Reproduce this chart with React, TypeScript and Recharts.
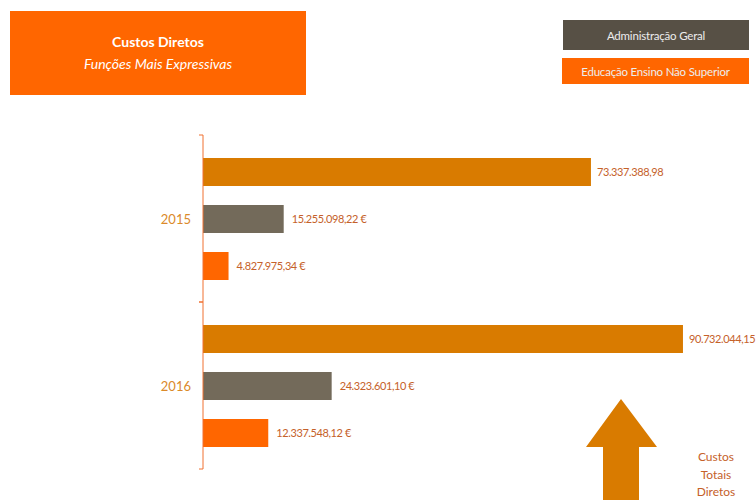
import React from 'react';
import { BarChart, Bar, XAxis, YAxis, Legend, LabelList } from 'recharts';

const years = ['2015', '2016'];
const custosTotais = [73337388.98, 90732044.15];
const adminGeral = [15255098.22, 24323601.1];
const educacao = [4827975.34, 12337548.12];

const seriesNames = {
  total: 'Custos Totais Diretos',
  admin: 'Administração Geral',
  edu: 'Educação Ensino Não Superior',
};

const FONT = 'Lato, sans-serif';
const LABEL_COLOR = '#C5612A';

const data = years.map((year, i) => ({
  year,
  total: custosTotais[i],
  admin: adminGeral[i],
  edu: educacao[i],
}));

// 73337388.98 -> "73.337.388,98"
function fmt(n: number) {
  const [int, dec] = n.toFixed(2).split('.');
  return int.replace(/\B(?=(\d{3})+(?!\d))/g, '.') + ',' + dec;
}

const YearTick = (props: any) => {
  const { x, y, payload } = props;
  const half = payload.offset || 83.5;
  const ax = x + 12;
  return (
    <g>
      <line x1={ax - 4} x2={ax} y1={y - half} y2={y - half} stroke="#F07030" />
      <line x1={ax - 4} x2={ax} y1={y + half} y2={y + half} stroke="#F07030" />
      <text x={x} y={y} dy={5} textAnchor="end" fill="#DB8A2A" fontSize={13} fontFamily={FONT}>
        {payload.value}
      </text>
    </g>
  );
};

const LegendBoxes = (props: any) => {
  const items = (props.payload || []).filter((p: any) => p.dataKey !== 'total');
  const boxStyle = [
    { background: '#575045', height: 30, marginBottom: 8, width: 186 },
    { background: '#FF6600', height: 26, width: 187, marginLeft: -1 },
  ];
  return (
    <div style={{ fontFamily: FONT }}>
      {items.map((p: any, i: number) => (
        <div
          key={p.value}
          style={{
            ...boxStyle[i],
            color: '#EDEDED',
            fontSize: 11.5,
            letterSpacing: -0.2,
            display: 'flex',
            alignItems: 'center',
            justifyContent: 'center',
          }}
        >
          {p.value}
        </div>
      ))}
    </div>
  );
};

const labelProps = {
  position: 'right' as const,
  fill: LABEL_COLOR,
  fontSize: 11,
  fontFamily: FONT,
  style: { letterSpacing: -0.4 },
};

export default function App() {
  return (
    <div style={{ position: 'absolute', left: 0, top: 0, width: 756, height: 500, background: '#fff', overflow: 'hidden' }}>
      <div
        style={{
          position: 'absolute',
          left: 10,
          top: 11,
          width: 296,
          height: 84,
          background: '#FF6600',
          color: '#fff',
          fontFamily: FONT,
          textAlign: 'center',
        }}
      >
        <div style={{ fontWeight: 'bold', fontSize: 14, marginTop: 22 }}>Custos Diretos</div>
        <div style={{ fontStyle: 'italic', fontSize: 14, marginTop: 5 }}>Funções Mais Expressivas</div>
      </div>

      <BarChart
        width={756}
        height={500}
        data={data}
        layout="vertical"
        margin={{ top: 135, right: 24, bottom: 31, left: 0 }}
        barSize={28}
        barGap={19}
      >
        <XAxis type="number" domain={[0, 100000000]} hide />
        <YAxis
          type="category"
          dataKey="year"
          width={203}
          axisLine={{ stroke: '#F07030' }}
          tickLine={false}
          tickSize={4}
          tickMargin={8}
          tick={<YearTick />}
        />
        <Legend
          layout="horizontal"
          verticalAlign="middle"
          align="center"
          content={<LegendBoxes />}
          wrapperStyle={{ position: 'absolute', left: 563, top: 20, width: 188 }}
        />
        <Bar dataKey="total" name={seriesNames.total} fill="#D97B00" isAnimationActive={false}>
          <LabelList dataKey="total" offset={6} formatter={(v: any) => fmt(Number(v))} {...labelProps} />
        </Bar>
        <Bar dataKey="admin" name={seriesNames.admin} fill="#736A5A" isAnimationActive={false}>
          <LabelList dataKey="admin" offset={8} formatter={(v: any) => fmt(Number(v)) + ' €'} {...labelProps} />
        </Bar>
        <Bar dataKey="edu" name={seriesNames.edu} fill="#FF6600" isAnimationActive={false}>
          <LabelList dataKey="edu" offset={8} formatter={(v: any) => fmt(Number(v)) + ' €'} {...labelProps} />
        </Bar>
      </BarChart>

      {/* arrow standing in for the "Custos Totais Diretos" legend */}
      <svg width={756} height={500} style={{ position: 'absolute', left: 0, top: 0, pointerEvents: 'none' }}>
        <polygon points="621,399 657,447 639,447 639,500 603,500 603,447 586,447" fill="#D97B00" />
        <text x={716} textAnchor="middle" fill={LABEL_COLOR} fontSize={12} fontFamily={FONT}>
          <tspan x={716} y={461}>Custos</tspan>
          <tspan x={716} y={479}>Totais</tspan>
          <tspan x={716} y={496}>Diretos</tspan>
        </text>
      </svg>
    </div>
  );
}
